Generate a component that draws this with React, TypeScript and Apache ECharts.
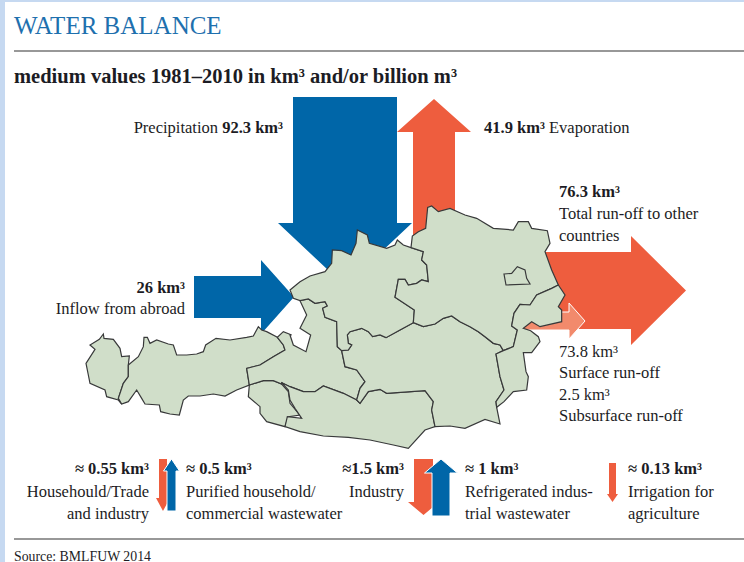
import React, { useEffect, useRef } from "react";
import * as echarts from "echarts";

const SERIF = '"Liberation Serif", serif';
const BLUE = "#0066A8";
const RED = "#EE5D3E";
const PALE = "#F28A6C";
const LAND = "#D0DEC9";
const INK = "#1c1c24";

const title = "WATER BALANCE";
const subtitle = "medium values 1981–2010 in km³ and/or billion m³";
const source = "Source: BMLFUW 2014";

const precipitation = "92.3 km³";
const evaporation = "41.9 km³";
const totalRunOff = "76.3 km³";
const inflow = "26 km³";
const surfaceRunOff = "73.8 km³";
const subsurfaceRunOff = "2.5 km³";
const household = "≈ 0.55 km³";
const purified = "≈ 0.5 km³";
const industry = "≈1.5 km³";
const refrigerated = "≈ 1 km³";
const irrigation = "≈ 0.13 km³";

// outline helpers: the outlines were traced on 3x crops of the picture
const crop = (ox: number, oy: number) => (p: number[]) => {
  const out: number[][] = [];
  for (let i = 0; i < p.length; i += 2) out.push([ox + p[i] / 3, oy + p[i + 1] / 3]);
  return out;
};
const west = crop(40, 250);
const east = crop(280, 200);

const vorarlberg = west([190,252,178,268,150,285,165,298,138,340,145,375,150,400,195,420,200,440,235,450,245,462,235,445,250,400,265,380,265,345,268,318,245,320,240,295,220,268,192,265,190,252]);
const tirol = west([265,345,295,320,310,290,312,262,322,262,330,280,350,270,385,282,400,285,410,315,440,315,470,312,490,305,497,285,528,265,570,270,620,262,640,258,655,230,665,240,680,245,712,262,730,285,735,300,700,320,660,345,620,355,628,405,590,420,555,438,520,432,480,438,445,438,430,450,418,495,390,492,362,485,358,465,315,462,305,445,290,420,265,455,245,462,235,445,250,400,265,380,265,345]);
const osttirol = west([628,405,625,440,660,470,660,490,680,515,735,530,745,500,780,495,750,460,745,425,725,402,700,392,670,392,628,405]);
const salzburg = [
  ...east([60,302,85,297,105,310,135,305,142,318,128,325,135,352,170,365,172,440,185,452,195,500,230,510,255,545,240,565,230,600,190,580,130,558,105,575,70,575,30,560,5,548]),
  ...west([725,402,700,392,670,392,628,405,620,355,660,345,700,320,735,300,730,285,712,262,730,245,755,255]),
  ...east([30,405,40,435,78,455,92,405,60,385,80,345,60,302]),
];
const oberoesterreich = east([30,270,60,245,90,228,135,215,155,190,157,150,185,152,213,165,228,130,232,90,262,105,268,130,320,145,345,135,352,120,370,135,393,143,430,155,425,180,440,195,445,245,425,240,410,250,385,255,375,238,355,238,345,292,403,330,400,368,360,390,318,413,300,405,278,410,265,395,245,385,210,395,202,405,205,430,215,435,205,450,185,452,172,440,170,365,135,352,128,325,142,318,135,305,105,310,85,297,60,302,40,295,30,270]);
const niederoesterreich = east([393,143,397,108,415,95,437,85,443,22,455,18,475,35,510,25,555,45,590,55,640,85,700,90,715,65,745,65,755,85,802,92,810,130,795,155,815,210,835,255,815,265,770,285,750,315,720,313,702,340,695,378,712,390,700,440,670,452,660,435,640,430,615,410,595,395,570,380,540,365,515,348,490,355,465,372,430,380,400,368,403,330,345,292,355,238,375,238,385,255,410,250,425,240,445,245,440,195,425,180,430,155,393,143]);
const wien = east([672,222,695,220,712,200,735,210,740,235,750,252,678,255,672,222]);
const burgenland = east([835,255,855,285,835,320,845,330,845,365,780,380,755,365,730,385,752,392,775,410,780,425,755,458,730,458,738,515,745,530,740,570,700,575,672,605,650,622,648,605,672,570,660,530,648,462,670,452,700,440,712,390,695,378,702,340,720,313,750,315,770,285,815,265,835,255]);
const steiermark = east([400,368,430,380,465,372,490,355,515,348,540,365,570,380,595,395,615,410,640,430,660,435,670,452,648,462,660,530,672,570,648,605,650,622,660,672,615,658,555,685,510,678,465,680,455,630,460,605,435,572,320,580,300,568,265,575,240,610,230,600,240,565,255,545,230,510,195,500,185,452,205,450,215,435,205,430,202,405,210,395,245,385,265,395,278,410,300,405,318,413,360,390,400,368]);
const kaernten = east([5,548,30,560,70,575,105,575,130,558,190,580,230,600,240,610,265,575,300,568,320,580,435,572,460,605,455,630,465,680,435,690,385,745,340,735,270,720,205,712,130,708,60,695,15,680,22,650,65,655,45,625,30,600,25,570,5,548]);

const regions: [string, number[][]][] = [
  ["Vorarlberg", vorarlberg],
  ["Tirol", tirol],
  ["Osttirol", osttirol],
  ["Salzburg", salzburg],
  ["Kärnten", kaernten],
  ["Steiermark", steiermark],
  ["Oberösterreich", oberoesterreich],
  ["Niederösterreich", niederoesterreich],
  ["Burgenland", burgenland],
  ["Wien", wien],
];

const arrowV = (cx: number, tail: number, half: number, neck: number, headHalf: number, tip: number) => [
  [cx - half, tail], [cx + half, tail], [cx + half, neck], [cx + headHalf, neck], [cx, tip],
  [cx - headHalf, neck], [cx - half, neck],
];
const arrowH = (tail: number, cy: number, half: number, neck: number, headHalf: number, tip: number) => [
  [tail, cy - half], [neck, cy - half], [neck, cy - headHalf], [tip, cy], [neck, cy + headHalf],
  [neck, cy + half], [tail, cy + half],
];

const shape = (points: number[][], fill: string, edge = false) => ({
  type: "polygon", z: 1, shape: { points },
  style: { fill, stroke: edge ? "#ffffff" : undefined, lineWidth: edge ? 1 : 0 },
});

const line = (y: number) => ({
  type: "line", z: 1, shape: { x1: 14, y1: y, x2: 744, y2: y },
  style: { stroke: "#333333", lineWidth: 1.2 },
});

const label = (x: number, y: number, parts: [string, boolean][], align = "left", size = 16.5) => ({
  type: "text", z: 10, x, y,
  style: {
    text: parts.map(([t, b]) => `{${b ? "b" : "r"}|${t}}`).join(""),
    align, verticalAlign: "middle",
    rich: {
      r: { fontFamily: SERIF, fontSize: size, fill: INK, fontWeight: "normal" },
      b: { fontFamily: SERIF, fontSize: size, fill: INK, fontWeight: "bold" },
    },
  },
});

export default function App() {
  const ref = useRef<HTMLDivElement>(null);
  useEffect(() => {
    document.body.style.margin = "0";
    const chart = echarts.init(ref.current!, undefined, { renderer: "svg" });
    echarts.registerMap("austria", {
      type: "FeatureCollection",
      features: regions.map(([name, ring]) => ({
        type: "Feature",
        properties: { name },
        geometry: { type: "Polygon", coordinates: [ring.map(([x, y]) => [x, -y])] },
      })),
    } as any);
    chart.setOption({
      animation: false,
      backgroundColor: "#C6D9F1",
      series: [{
        type: "map", map: "austria", silent: true, z: 2, roam: false,
        aspectScale: 1, boundingCoords: [[0, 0], [744, -562]],
        left: 0, top: 0, width: 744, height: 562,
        label: { show: false },
        itemStyle: { areaColor: LAND, borderColor: "#38393a", borderWidth: 1.2 },
        emphasis: { disabled: true }, select: { disabled: true },
        data: regions.map(([name]) => ({ name })),
      }],
      graphic: { elements: [
        { type: "rect", z: 0, shape: { x: 5, y: 2, width: 739, height: 560 }, style: { fill: "#ffffff" } },
        line(51), line(539),
        shape(arrowV(434, 240, 21, 132, 37, 99), RED),
        shape(arrowV(345, 97, 52, 223, 67, 286), BLUE),
        shape(arrowH(194, 297, 21, 261, 37, 294), BLUE),
        shape(arrowH(520, 290.5, 38.5, 631, 54.5, 686), RED),
        shape(arrowH(515, 321, 9, 569, 18, 585), PALE, true),
        shape(arrowV(163, 459, 4, 498, 7, 511), RED),
        shape(arrowV(171.5, 511, 4.5, 471, 8, 459), BLUE, true),
        shape(arrowV(423.5, 459, 9.5, 502, 15.5, 515), RED),
        shape(arrowV(441, 516, 9, 473, 16.5, 459), BLUE, true),
        shape(arrowV(612.5, 463, 3.5, 494, 5.5, 502), RED),

        { type: "text", z: 10, x: 14, y: 25, style: { text: title, fill: "#1E70AE", font: `25px ${SERIF}`, verticalAlign: "middle" } },
        label(14, 76, [[subtitle, true]], "left", 20.5),
        { type: "text", z: 10, x: 14, y: 556, style: { text: source, fill: INK, font: `13.8px ${SERIF}`, verticalAlign: "middle" } },

        label(283, 127, [["Precipitation ", false], [precipitation, true]], "right"),
        label(484, 127, [[evaporation, true], [" Evaporation", false]]),
        label(559, 191, [[totalRunOff, true]]),
        label(559, 213, [["Total run-off to other", false]]),
        label(559, 235, [["countries", false]]),
        label(185, 287, [[inflow, true]], "right"),
        label(185, 308, [["Inflow from abroad", false]], "right"),
        label(559, 351, [[surfaceRunOff, false]]),
        label(559, 372, [["Surface run-off", false]]),
        label(559, 394, [[subsurfaceRunOff, false]]),
        label(559, 415, [["Subsurface run-off", false]]),

        label(149, 468, [[household, true]], "right"),
        label(149, 491, [["Househould/Trade", false]], "right"),
        label(149, 513, [["and industry", false]], "right"),
        label(186, 468, [[purified, true]]),
        label(186, 491, [["Purified household/", false]]),
        label(186, 513, [["commercial wastewater", false]]),
        label(404, 468, [[industry, true]], "right"),
        label(404, 491, [["Industry", false]], "right"),
        label(465, 468, [[refrigerated, true]]),
        label(465, 491, [["Refrigerated indus-", false]]),
        label(465, 513, [["trial wastewater", false]]),
        label(628, 468, [[irrigation, true]]),
        label(628, 491, [["Irrigation for", false]]),
        label(628, 513, [["agriculture", false]]),
      ] },
    });
    return () => chart.dispose();
  }, []);
  return <div ref={ref} style={{ position: "absolute", left: 0, top: 0, width: 744, height: 562 }} />;
}
